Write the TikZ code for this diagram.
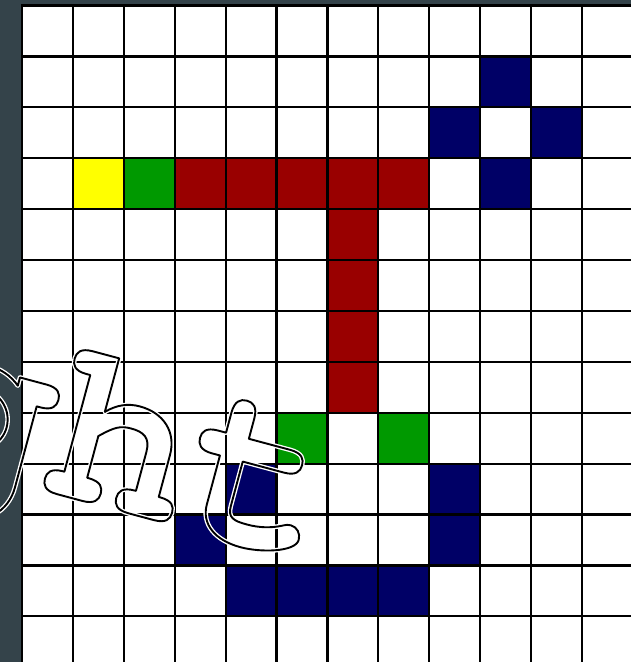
\documentclass[tikz,border=0pt]{standalone}
\usepackage{fontspec}
\newfontfamily\cursorfont{texgyrecursor-bold.otf}
\definecolor{bgdark}{HTML}{34434A}
\definecolor{cellnavy}{HTML}{000066}
\definecolor{cellred}{HTML}{990000}
\definecolor{cellgreen}{HTML}{009900}
\definecolor{cellyellow}{HTML}{FFFF00}
\newcommand{\strokedtext}[2]{\special{pdf:literal direct #1 w 1 Tr 1 j 1 J}#2\special{pdf:literal direct 0 Tr}}
\tikzset{
  gridline/.style={draw=black, line width=2.2pt},
  wmark/.style={rotate=-15, anchor=base, inner sep=0pt, font=\cursorfont\fontsize{236}{236}\selectfont}
}
\begin{document}
\begin{tikzpicture}[x=1pt,y=-1pt]
\useasboundingbox (0,0) rectangle (631,662);
\clip (0,0) rectangle (631,662);
\fill[bgdark] (0,0) rectangle (631,662);
\fill[white] (22,5.5) rectangle (640,670);
\foreach \c/\r/\col in {9/1/cellnavy, 8/2/cellnavy, 10/2/cellnavy, 9/3/cellnavy,
  1/3/cellyellow, 2/3/cellgreen, 3/3/cellred, 4/3/cellred, 5/3/cellred, 6/3/cellred, 7/3/cellred,
  6/4/cellred, 6/5/cellred, 6/6/cellred, 6/7/cellred,
  5/8/cellgreen, 7/8/cellgreen,
  4/9/cellnavy, 8/9/cellnavy, 3/10/cellnavy, 8/10/cellnavy,
  4/11/cellnavy, 5/11/cellnavy, 6/11/cellnavy, 7/11/cellnavy}
  \fill[\col] ({22+\c*50.9},{5.5+\r*50.9}) rectangle ++(50.9,50.9);
\foreach \i in {0,...,12}
  \draw[gridline] ({22+\i*50.9},4.4) -- ({22+\i*50.9},670);
\foreach \j in {0,...,13}
  \draw[gridline] (20.9,{5.5+\j*50.9}) -- (640,{5.5+\j*50.9});
\node[wmark, text=white] (wmhalo) at (105,507) {\strokedtext{4.6}{ght}};
\node[wmark, text=black] (wmline) at (105,507) {\strokedtext{1.9}{ght}};
\end{tikzpicture}
\end{document}
